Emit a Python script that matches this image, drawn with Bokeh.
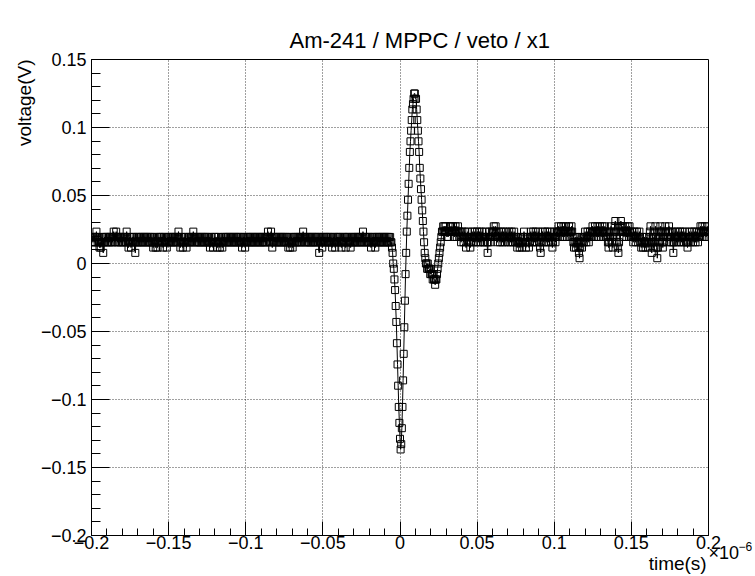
import numpy as np
from bokeh.plotting import figure
from bokeh.models import Range1d, FixedTicker, CustomJSTickFormatter, LinearAxis, ColumnDataSource
from bokeh.embed import file_html
from bokeh.resources import INLINE

# ---- data ----
TITLE = "Am-241 / MPPC / veto / x1"
X_LABEL = "time(s)"
Y_LABEL = "voltage(V)"
X_EXP_BASE = "\u00d710"
X_EXP_POWER = "\u22126"
T0_NS = -200.0          # first sample time (ns)
DT_NS = 0.4             # sampling step (ns)
LSB_V = 1.0 / 256.0     # volts per ADC code

# ADC codes, baseline before the pulse (t = -200 ns .. -6 ns)
pre_pulse_codes = [
    5,4,5,5,4,5,4,5,6,5, 4,5,4,3,4,3,4,5,4,2, 4,5,4,5,5,4,5,4,5,4, 5,5,4,5,4,5,6,5,4,5,
    6,5,4,5,4,5,5,4,5,4, 5,4,5,5,4,5,4,6,5,4, 3,4,5,4,3,4,5,4,5,5, 4,2,4,5,4,5,4,5,4,5,
    4,5,4,5,4,5,5,4,5,4, 5,4,5,4,5,4,5,4,5,4, 3,4,5,4,3,4,5,3,4,5, 4,5,4,5,4,5,3,4,5,4,
    5,4,3,4,5,4,5,4,5,4, 5,4,5,4,5,4,5,4,5,4, 5,6,5,4,3,4,5,4,3,4, 5,4,5,4,3,4,5,4,5,4,
    5,4,5,4,5,6,5,4,5,4, 5,4,5,4,5,4,5,4,5,4, 5,4,5,4,5,4,5,4,5,4, 4,5,3,4,5,4,4,3,4,5,
    5,4,5,4,3,4,5,4,3,4, 5,4,3,4,5,4,5,4,5,4, 5,4,5,4,5,4,5,4,5,4, 5,4,5,4,5,4,5,4,5,4,
    5,4,5,4,3,4,5,4,5,3, 4,5,4,5,4,5,4,5,4,5, 4,5,4,5,4,5,4,5,4,5, 4,5,4,5,4,5,4,5,4,5,
    4,5,4,5,4,5,6,5,4,5, 4,6,5,3,4,5,4,5,4,5, 4,5,4,5,4,5,4,5,4,5, 4,5,4,5,4,5,4,5,4,3,
    4,5,3,4,5,4,3,4,5,4, 5,4,5,4,5,4,5,4,5,4, 5,4,5,6,5,4,5,4,5,4, 5,4,5,4,5,4,5,4,5,4,
    5,4,5,4,5,4,5,4,5,2, 4,5,4,5,3,4,5,4,5,4, 5,4,5,4,5,4,5,4,5,4, 3,4,5,4,5,3,4,5,4,5,
    4,5,4,5,4,3,4,5,4,5, 4,5,3,4,5,4,5,4,5,4, 3,4,5,4,5,4,5,4,5,4, 5,4,5,4,5,4,5,4,5,4,
    6,5,4,5,4,5,4,5,4,5, 4,5,4,3,4,5,4,5,4,5, 3,4,5,4,5,4,5,4,5,4, 5,4,5,4,5,4,5,4,5,4,
    5,4,5,4,5,4,
]

# ADC codes through the pulse (t = -5.6 ns .. 31.6 ns)
pulse_codes = [
    4,3,2,0,-1,-3,-5,-8,-11,-15,
    -19,-23,-27,-30,-33,-35,-34,-31,-27,-22,
    -17,-12,-7,-2,2,6,9,12,15,18,
    21,23,25,27,29,30,31,32,32,31,
    31,29,27,25,23,21,18,16,14,12,
    10,8,6,4,2,1,0,0,-1,0,
    -1,-1,-1,-2,-1,-2,-2,-3,-2,-3,
    -3,-4,-3,-3,-2,-1,0,1,2,3,
    4,5,6,6,7,6,7,6,7,6,
    5,6,5,6,
]

# ADC codes, baseline after the pulse (t = 32 ns .. 199.6 ns)
post_pulse_codes = [
    6,7,6,7,6,6,7,6,5,6, 7,6,5,6,7,6,5,6,5,4, 5,6,5,4,5,6,5,3,4,5, 6,5,4,5,3,4,5,6,5,4,
    5,6,5,4,5,6,5,4,5,6, 5,4,5,6,5,4,5,4,5,6, 5,4,2,4,5,6,5,4,5,6, 5,6,7,6,5,7,6,5,4,5,
    6,5,4,5,6,5,4,5,6,5, 4,5,6,5,5,4,5,6,5,4, 5,6,5,4,5,6,5,4,5,4, 3,4,5,4,3,4,5,4,3,4,
    5,6,5,4,3,4,5,4,5,3, 4,5,6,5,4,5,6,5,4,5, 6,5,4,5,6,5,4,3,2,4, 5,6,5,4,5,6,5,4,5,6,
    5,4,5,6,5,4,5,3,4,5, 6,5,4,5,6,5,6,7,6,5, 6,7,6,5,6,7,6,5,6,7, 6,5,6,6,7,6,5,6,7,6,
    5,4,3,4,5,3,4,5,4,3, 2,1,3,4,5,3,4,5,4,5, 6,5,4,5,6,5,4,5,6,5, 5,6,7,6,5,6,7,6,5,6,
    7,6,5,6,7,6,5,6,7,6, 5,6,7,6,5,6,5,4,3,4, 5,6,7,5,4,3,5,6,7,8, 6,5,4,3,2,4,6,7,8,7,
    6,7,6,5,6,7,6,5,6,7, 6,5,7,6,5,5,6,5,4,5, 6,5,4,5,6,5,4,5,6,5, 4,3,4,5,3,4,5,4,3,4,
    5,4,3,4,5,6,7,4,2,4, 5,3,4,6,7,5,3,1,3,4, 5,6,7,6,5,4,3,4,5,6, 7,6,5,4,5,6,7,6,5,4,
    5,6,4,2,4,5,6,5,4,5, 6,5,4,5,6,5,4,5,6,5, 4,5,6,5,4,4,3,4,5,6, 5,4,5,6,5,4,5,6,5,4,
    5,6,5,4,5,6,5,7,6,5, 7,6,5,6,7,6,5,6,7,6,
]

x_major = [-0.2, -0.15, -0.1, -0.05, 0.0, 0.05, 0.1, 0.15, 0.2]
y_major = [-0.2, -0.15, -0.1, -0.05, 0.0, 0.05, 0.1, 0.15]

# ---- build series ----
codes = np.array(pre_pulse_codes + pulse_codes + post_pulse_codes, dtype=float)
idx = np.arange(len(codes))
t_us = (T0_NS + DT_NS * idx) / 1000.0      # axis is in units of 1e-6 s
volt = codes * LSB_V
src = ColumnDataSource(dict(t=t_us, v=volt))

FONT = "Liberation Sans"

p = figure(width=755, height=576, output_backend="svg", toolbar_location=None,
           x_range=Range1d(-0.2, 0.2), y_range=Range1d(-0.2, 0.15),
           min_border_left=90, min_border_right=47, min_border_top=59, min_border_bottom=38)
p.background_fill_color = "white"
p.border_fill_color = "white"
p.outline_line_color = "black"
p.outline_line_width = 1

# title
p.title.text = TITLE
p.title.align = "left"
p.title.offset = 198
p.title.text_font = FONT
p.title.text_font_size = "22px"
p.title.text_font_style = "normal"
p.title.text_color = "black"
p.title.standoff = 13

x_minor = [round(-0.2 + 0.01 * k, 2) for k in range(41)]
y_minor = [round(-0.2 + 0.01 * k, 2) for k in range(36)]
p.xaxis.ticker = FixedTicker(ticks=x_major, minor_ticks=x_minor)
p.yaxis.ticker = FixedTicker(ticks=y_major, minor_ticks=y_minor)

fmt_code = """
const a = parseFloat(Math.abs(tick).toFixed(4)).toString();
return (tick < -1e-9 ? "\u2212" : "") + a;
"""
for ax in (p.xaxis[0], p.yaxis[0]):
    ax.formatter = CustomJSTickFormatter(code=fmt_code)
    ax.major_label_text_font = FONT
    ax.major_label_text_font_size = "18px"
    ax.major_label_text_color = "black"
    ax.axis_line_color = "black"
    ax.major_tick_line_color = "black"
    ax.minor_tick_line_color = "black"
    ax.major_tick_out = 0
    ax.minor_tick_out = 0

p.xaxis.axis_label = None
p.xaxis.major_label_text_line_height = 1.0

# y axis title: rotated, its end at the top of the frame
p.yaxis.axis_label = Y_LABEL
p.yaxis.axis_label_text_font = FONT
p.yaxis.axis_label_text_font_size = "19px"
p.yaxis.axis_label_text_font_style = "normal"
p.yaxis.axis_label_text_color = "black"
p.yaxis.axis_label_text_line_height = 1.0
p.yaxis.axis_label_orientation = np.pi / 2
p.yaxis.axis_label_align = "end"
p.yaxis.axis_label_standoff = 13

p.yaxis.major_tick_in = 18
p.yaxis.minor_tick_in = 9
p.yaxis.major_label_standoff = 5
p.xaxis.major_tick_in = 14
p.xaxis.minor_tick_in = 7
p.xaxis.major_label_standoff = 0

for g in (p.xgrid[0], p.ygrid[0]):
    g.grid_line_color = "black"
    g.grid_line_alpha = 0.75
    g.grid_line_dash = "1 2"
    g.grid_line_width = 1


def text_axis(tick, text, size, standoff, line_height, orientation="horizontal"):
    """An axis with no line or tick that only carries one text at one position."""
    ax = LinearAxis(ticker=FixedTicker(ticks=[tick], minor_ticks=[]),
                    formatter=CustomJSTickFormatter(code="return %r;" % text))
    ax.axis_line_color = None
    ax.major_tick_line_color = None
    ax.minor_tick_line_color = None
    ax.major_tick_in = 0
    ax.major_tick_out = 0
    ax.minor_tick_in = 0
    ax.minor_tick_out = 0
    ax.major_label_standoff = standoff
    ax.major_label_text_font = FONT
    ax.major_label_text_font_size = size
    ax.major_label_text_color = "black"
    ax.major_label_text_line_height = line_height
    ax.major_label_orientation = orientation
    return ax


# x axis title under the tick labels, ending at the frame end
p.add_layout(text_axis(0.18, X_LABEL, "19px", 1, 1.0), "below")
# exponent of the x axis, right of the bottom-right corner
p.add_layout(text_axis(-0.2, "\n" + X_EXP_BASE, "18px", 0, 1.75), "right")
p.add_layout(text_axis(-0.2, "\n" + X_EXP_POWER, "12px", -4, 1.7), "right")

p.line("t", "v", source=src, line_color="black", line_width=1)
p.scatter("t", "v", source=src, marker="square", size=7, fill_color=None,
          line_color="black", line_width=1)

open("out.html", "w").write(file_html(p, INLINE))
